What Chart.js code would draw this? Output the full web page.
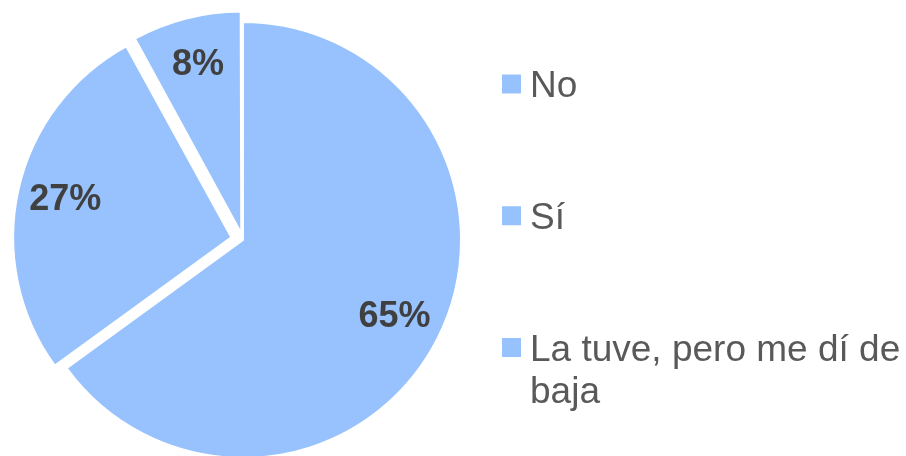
<!DOCTYPE html>
<html><head><meta charset="utf-8">
<script src="https://cdn.jsdelivr.net/npm/chart.js@4/dist/chart.umd.min.js"></script>
<style>
html,body{margin:0;padding:0;overflow:hidden;background:#fff;width:906px;height:456px}
#wrap{position:absolute;left:0;top:-20px;width:906px;height:520px}
</style></head>
<body><div id="wrap"><canvas id="c"></canvas></div>
<script>
const categories = ['No', 'Sí', 'La tuve, pero me dí de baja'];
const percentages = [65, 27, 8];

const FILL = '#97C2FD';
const FONT_FAMILY = '"Liberation Sans", Arial, Helvetica, sans-serif';
const Y_SHIFT = 20; // canvas is shifted up by this amount

// translation Chart.js v4 applies to an arc with a given offset
function arcShift(arc) {
  const off = (arc.options.offset || 0) / 4;
  const circ = arc.endAngle - arc.startAngle;
  const fix = 1 - Math.sin(Math.min(Math.PI, circ || 0));
  return off * (1 + fix);
}

const pctLabels = {
  id: 'pctLabels',
  afterDatasetsDraw(chart) {
    const ctx = chart.ctx;
    const meta = chart.getDatasetMeta(0);
    ctx.save();
    ctx.font = 'bold 36px ' + FONT_FAMILY;
    ctx.fillStyle = '#404040';
    ctx.textAlign = 'center';
    ctx.textBaseline = 'middle';
    meta.data.forEach((arc, i) => {
      const mid = (arc.startAngle + arc.endAngle) / 2;
      const d = arcShift(arc) + arc.outerRadius * 0.78;
      ctx.fillText(percentages[i] + '%', arc.x + Math.cos(mid) * d, arc.y + Math.sin(mid) * d);
    });
    ctx.restore();
  }
};

const sideLegend = {
  id: 'sideLegend',
  afterDraw(chart) {
    const ctx = chart.ctx;
    const labels = chart.data.labels;
    const colors = chart.data.datasets[0].backgroundColor;
    const boxX = 502, box = 19, textX = 530, maxW = 906 - textX, lineH = 42;
    const firstCenter = 84 + Y_SHIFT, step = 131.75;
    ctx.save();
    ctx.font = '37px ' + FONT_FAMILY;
    ctx.textAlign = 'left';
    ctx.textBaseline = 'alphabetic';
    labels.forEach((lab, i) => {
      const cy = firstCenter + i * step;
      ctx.fillStyle = Array.isArray(colors) ? colors[i] : colors;
      ctx.fillRect(boxX, cy - box / 2, box, box);
      const words = lab.split(' ');
      const lines = [];
      let cur = '';
      words.forEach(w => {
        const t = cur ? cur + ' ' + w : w;
        if (ctx.measureText(t).width > maxW && cur) { lines.push(cur); cur = w; }
        else cur = t;
      });
      if (cur) lines.push(cur);
      ctx.fillStyle = '#595959';
      lines.forEach((ln, k) => {
        ctx.fillText(ln, textX, cy + 13 + k * lineH);
      });
    });
    ctx.restore();
  }
};

new Chart(document.getElementById('c'), {
  type: 'pie',
  data: {
    labels: categories,
    datasets: [{
      data: percentages,
      backgroundColor: [FILL, FILL, FILL],
      borderColor: '#FFFFFF',
      borderWidth: 2,
      offset: [0, 48, 28]
    }]
  },
  options: {
    responsive: true,
    maintainAspectRatio: false,
    animation: false,
    layout: { padding: { left: 0, top: 17, right: 420, bottom: 17 } },
    plugins: {
      legend: { display: false },
      tooltip: { enabled: false }
    }
  },
  plugins: [pctLabels, sideLegend]
});
</script>
</body></html>
